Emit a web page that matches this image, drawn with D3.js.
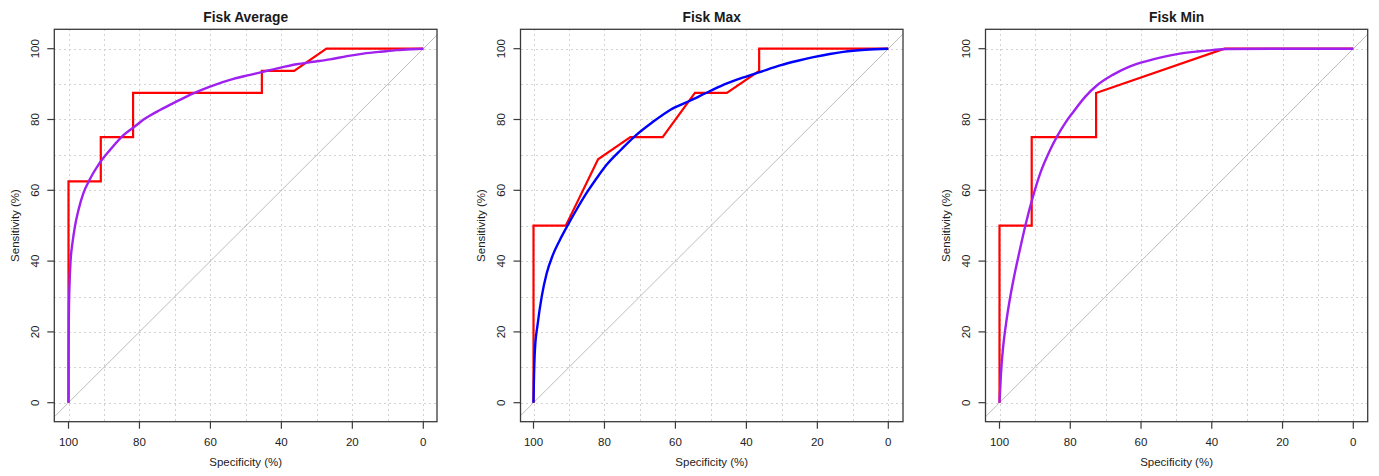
<!DOCTYPE html>
<html>
<head>
<meta charset="utf-8">
<script src="https://cdn.jsdelivr.net/npm/d3@7"></script>
<style>
  html, body { margin: 0; padding: 0; background: #fff; }
  svg { display: block; font-family: "Liberation Sans", Arial, sans-serif; }
</style>
</head>
<body>
<svg id="chart" width="1379" height="476"></svg>
<script>
// ---------- data ----------
const panelTitles = ["Fisk Average", "Fisk Max", "Fisk Min"];
const smoothColors = ["#A020F0", "#0000FF", "#A020F0"];

const xTickValues = [100, 80, 60, 40, 20, 0];
const yTickValues = [0, 20, 40, 60, 80, 100];
const gridValues = [0, 10, 20, 30, 40, 50, 60, 70, 80, 90, 100];

// empirical ROC points [specificity, sensitivity]
const avgEmpirical = [[100, 0], [100, 62.5], [90.9, 62.5], [90.9, 75], [81.8, 75], [81.8, 87.5],
  [45.5, 87.5], [45.5, 93.75], [36.4, 93.75], [27.3, 100], [0, 100]];
const maxEmpirical = [[100, 0], [100, 50], [90.9, 50], [81.8, 68.75], [72.7, 75], [63.6, 75],
  [54.5, 87.5], [45.5, 87.5], [36.4, 93.75], [36.4, 100], [0, 100]];
const minEmpirical = [[100, 0], [100, 50], [90.9, 50], [90.9, 75], [72.7, 75], [72.7, 87.5],
  [36.4, 100], [0, 100]];

// smoothed ROC points [specificity, sensitivity]
const avgSmooth = [[100, 0], [99.97, 15], [99.88, 26], [99.7, 33.7], [99.4, 40.3], [98.9, 45],
  [98.2, 49.7], [97.2, 54.4], [95.8, 59.2], [94.1, 62.9], [91.3, 67.6], [88.3, 71.4],
  [84.5, 75.6], [81.9, 77.6], [78.5, 80.2], [74.2, 82.7], [69.5, 85.1], [64.8, 87.4],
  [60.1, 89.3], [53.5, 91.5], [48.8, 92.6], [45.5, 93.4], [40.5, 94.6], [35.7, 95.6],
  [31, 96.3], [26.3, 97.0], [21.5, 97.9], [16.9, 98.6], [11.5, 99.2], [7.5, 99.6], [3.5, 99.85], [0, 100]];
const maxSmooth = [[100, 0], [99.9, 5.5], [99.6, 14.9], [98.8, 22.4], [97.7, 29.9], [96.3, 36.5],
  [94.6, 41.6], [92.6, 45.9], [90.7, 49.5], [87.6, 55.0], [84.8, 59.6], [82.2, 63.4],
  [79.4, 67.2], [75.2, 71.6], [71.4, 75.3], [66.5, 79.2], [61.5, 82.7], [55.9, 85.3],
  [50.5, 87.9], [45.5, 90.2], [40.8, 91.9], [36.2, 93.4], [30.5, 95.3], [25.5, 96.6],
  [21.1, 97.6], [16.5, 98.5], [12.7, 99.1], [6.5, 99.7], [0, 100]];
const minSmooth = [[100, 0], [99.6, 8], [99.0, 15.5], [98.2, 22], [97.2, 28.5], [95.9, 35.5],
  [94.4, 42.5], [92.7, 50], [90.8, 57.3], [88.5, 64.8], [85.7, 71.4], [83.8, 75.1],
  [81.3, 79.2], [79.1, 82.2], [75.8, 86.4], [72.5, 89.6], [68, 92.6], [63.1, 95.0],
  [58.4, 96.5], [53.7, 97.7], [49, 98.6], [44.2, 99.2], [40, 99.6], [35.8, 99.9], [20, 100], [0, 100]];

const empiricalSets = [avgEmpirical, maxEmpirical, minEmpirical];
const smoothSets = [avgSmooth, maxSmooth, minSmooth];

// ---------- layout ----------
const panelLayout = [
  { boxL: 54.3, boxR: 437.0, x100: 68.5, x0: 423.3 },
  { boxL: 520.5, boxR: 903.0, x100: 533.5, x0: 888.3 },
  { boxL: 985.5, boxR: 1367.7, x100: 999.5, x0: 1353.3 }
];
const boxT = 29.3, boxB = 421.7, y0px = 402.7, y100px = 48.7;

const svg = d3.select("#chart");
const defs = svg.append("defs");

panelLayout.forEach((L, i) => {
  const x = d3.scaleLinear().domain([100, 0]).range([L.x100, L.x0]);
  const y = d3.scaleLinear().domain([0, 100]).range([y0px, y100px]);
  const g = svg.append("g");

  const clipId = "clip" + i;
  defs.append("clipPath").attr("id", clipId)
    .append("rect").attr("x", L.boxL).attr("y", boxT)
    .attr("width", L.boxR - L.boxL).attr("height", boxB - boxT);

  // grid
  const grid = g.append("g").attr("stroke", "#d3d3d3").attr("stroke-width", 1)
    .attr("stroke-dasharray", "2,3").attr("shape-rendering", "crispEdges");
  grid.selectAll("line.v").data(gridValues).join("line").attr("class", "v")
    .attr("x1", d => Math.round(x(d)) + 0.5).attr("x2", d => Math.round(x(d)) + 0.5)
    .attr("y1", boxT).attr("y2", boxB);
  grid.selectAll("line.h").data(gridValues).join("line").attr("class", "h")
    .attr("y1", d => Math.round(y(d)) + 0.5).attr("y2", d => Math.round(y(d)) + 0.5)
    .attr("x1", L.boxL).attr("x2", L.boxR);

  const plot = g.append("g").attr("clip-path", `url(#${clipId})`);

  // diagonal reference line (sensitivity = 100 - specificity)
  plot.append("line")
    .attr("x1", x(110)).attr("y1", y(-10))
    .attr("x2", x(-10)).attr("y2", y(110))
    .attr("stroke", "#bdbdbd").attr("stroke-width", 1);

  // empirical
  const stepLine = d3.line().x(d => x(d[0])).y(d => y(d[1]));
  plot.append("path").datum(empiricalSets[i]).attr("d", stepLine)
    .attr("fill", "none").attr("stroke", "#FF0000").attr("stroke-width", 2.2)
    .attr("stroke-linejoin", "miter");

  // smoothed
  const smoothLine = d3.line().x(d => x(d[0])).y(d => y(d[1]))
    .curve(d3.curveMonotoneX);
  plot.append("path").datum(smoothSets[i]).attr("d", smoothLine)
    .attr("fill", "none").attr("stroke", smoothColors[i]).attr("stroke-width", 2.4);

  // box
  g.append("rect").attr("x", L.boxL).attr("y", boxT)
    .attr("width", L.boxR - L.boxL).attr("height", boxB - boxT)
    .attr("fill", "none").attr("stroke", "#3a3a3a").attr("stroke-width", 1.3);

  // x axis
  const xa = g.append("g");
  xa.selectAll("line").data(xTickValues).join("line")
    .attr("x1", d => x(d)).attr("x2", d => x(d))
    .attr("y1", boxB).attr("y2", boxB + 7)
    .attr("stroke", "#3a3a3a").attr("stroke-width", 1.2);
  xa.selectAll("text").data(xTickValues).join("text")
    .attr("x", d => x(d)).attr("y", boxB + 24)
    .attr("text-anchor", "middle").attr("font-size", 11.5).attr("fill", "#222")
    .text(d => d);

  // y axis
  const ya = g.append("g");
  ya.selectAll("line").data(yTickValues).join("line")
    .attr("y1", d => y(d)).attr("y2", d => y(d))
    .attr("x1", L.boxL).attr("x2", L.boxL - 7)
    .attr("stroke", "#3a3a3a").attr("stroke-width", 1.2);
  ya.selectAll("text").data(yTickValues).join("text")
    .attr("transform", d => `translate(${L.boxL - 15.5},${y(d)}) rotate(-90)`)
    .attr("text-anchor", "middle").attr("font-size", 11.5).attr("fill", "#222")
    .text(d => d);

  // axis titles
  g.append("text")
    .attr("x", (L.boxL + L.boxR) / 2).attr("y", 465.5)
    .attr("text-anchor", "middle").attr("font-size", 11.5).attr("fill", "#222")
    .text("Specificity (%)");
  g.append("text")
    .attr("transform", `translate(${L.boxL - 35.5},${(boxT + boxB) / 2}) rotate(-90)`)
    .attr("text-anchor", "middle").attr("font-size", 11.5).attr("fill", "#222")
    .text("Sensitivity (%)");

  // title
  g.append("text")
    .attr("x", (L.boxL + L.boxR) / 2).attr("y", 21.5)
    .attr("text-anchor", "middle").attr("font-size", 13.8).attr("font-weight", "bold")
    .attr("fill", "#1a1a1a")
    .text(panelTitles[i]);
});
</script>
</body>
</html>
